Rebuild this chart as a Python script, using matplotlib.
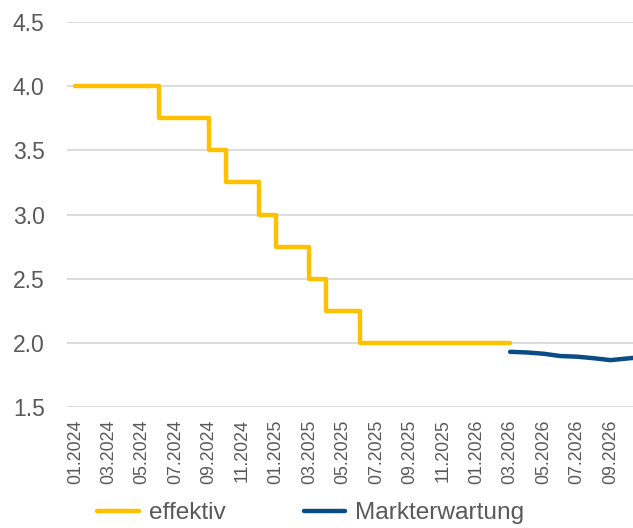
import matplotlib
matplotlib.use("Agg")
from matplotlib import pyplot as plt

# monthly categories 01.2024 .. 11.2026
months = [f"{m:02d}.{y}" for y in (2024, 2025, 2026) for m in range(1, 13)][:35]

# effective deposit rate (01.2024 .. 03.2026)
effektiv = [4.0, 4.0, 4.0, 4.0, 4.0,
            3.75, 3.75, 3.75,
            3.5,
            3.25, 3.25,
            3.0,
            2.75, 2.75,
            2.5,
            2.25, 2.25,
            2.0, 2.0, 2.0, 2.0, 2.0, 2.0, 2.0, 2.0, 2.0, 2.0]

# market expectation (03.2026 .. 11.2026)
markt_start = 26
markterwartung = [1.930, 1.925, 1.915, 1.897, 1.892, 1.880, 1.865, 1.878, 1.890]

YELLOW = "#FFC000"
BLUE = "#0B4C86"
GREY_TEXT = "#595959"
GRID = "#D9D9D9"

plt.rcParams["font.family"] = ["Liberation Sans", "DejaVu Sans"]

fig = plt.figure(figsize=(6.33, 5.28), dpi=100)
ax = fig.add_axes([0.1058, 0.2292, 1 - 0.1058, 0.9583 - 0.2292])

x_eff = list(range(len(effektiv)))
x_mkt = list(range(markt_start, markt_start + len(markterwartung)))

ax.plot(x_eff, effektiv, drawstyle="steps-post", color=YELLOW, lw=3.2,
        solid_capstyle="round", label="effektiv", zorder=3)
ax.plot(x_mkt, markterwartung, color=BLUE, lw=3.2,
        solid_capstyle="round", label="Markterwartung", zorder=3)

ax.set_ylim(1.5, 4.5)
ax.set_yticks([1.5, 2.0, 2.5, 3.0, 3.5, 4.0, 4.5])
ax.set_yticklabels([f"{v:.1f}" for v in ax.get_yticks()])
# the visible window ends shortly after 10.2026
ax.set_xlim(-0.5, 33.35)
ticks = list(range(0, 33, 2))
ax.set_xticks(ticks)
ax.set_xticklabels([months[i] for i in ticks], rotation=90)

ax.grid(axis="y", color=GRID, lw=1.3)
ax.set_axisbelow(True)
for s in ax.spines.values():
    s.set_visible(False)
ax.tick_params(axis="y", length=0, pad=16, labelsize=16.5, labelcolor=GREY_TEXT)
ax.tick_params(axis="x", length=0, pad=9, labelsize=12.8, labelcolor=GREY_TEXT)

fig.legend(loc="center", bbox_to_anchor=(0.491, 0.028), ncol=2, frameon=False,
           fontsize=17.6, labelcolor=GREY_TEXT, handlelength=1.7,
           handletextpad=0.4, columnspacing=3.2, borderaxespad=0)

fig.savefig("out.png", dpi=100)
